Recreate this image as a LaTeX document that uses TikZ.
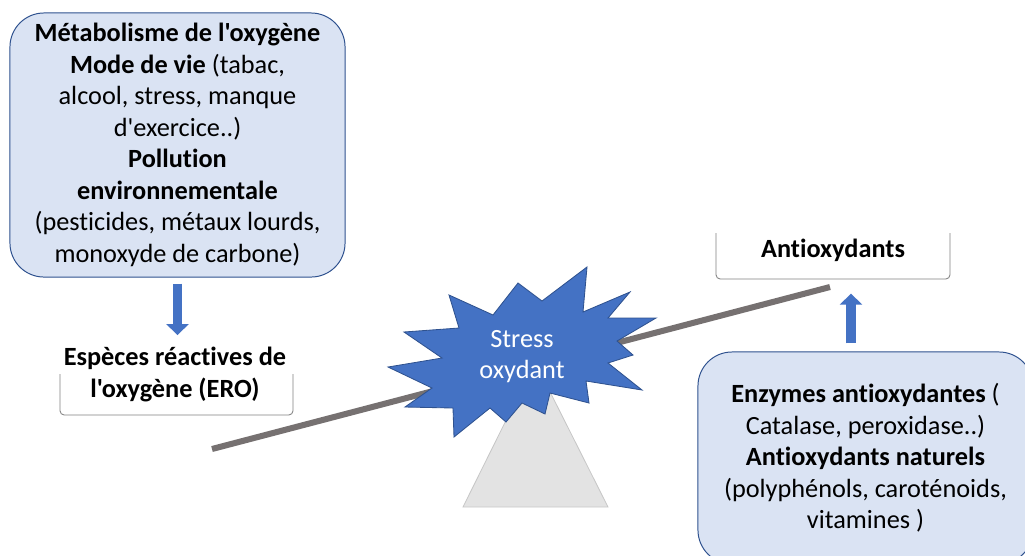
\documentclass[tikz,border=0pt]{standalone}
\usepackage{fontspec}
\setmainfont{Carlito}[Ligatures={TeXOff,NoCommon}]
\usetikzlibrary{arrows.meta}
\definecolor{bleuclair}{HTML}{DAE3F3}
\definecolor{bleu}{HTML}{4472C4}
\definecolor{bleufonce}{HTML}{2F528F}
\definecolor{gris}{HTML}{767171}

\begin{document}
\begin{tikzpicture}[x=0.025cm,y=-0.025cm]
\tikzstyle{boite}=[rectangle, rounded corners=0.85cm, draw=bleufonce, fill=bleuclair, line width=0.7pt, align=center, minimum width=8.375cm, font=\fontsize{18.7}{22.4}\selectfont]
\tikzstyle{texte}=[inner sep=0, align=center, font=\fontsize{18.7}{22.4}\selectfont]
\tikzstyle{crochet}=[draw=black!50, line width=0.6pt, rounded corners=3pt]
\tikzstyle{fleche}=[-{Triangle[length=7.8pt, width=15.6pt]}, line width=7.1pt, draw=bleu]
\useasboundingbox (0,0) rectangle (1025,555);
\clip (0,0) rectangle (1025,555);

% balance
\filldraw[fill=black!11, draw=black!22, line width=0.6pt] (535,362) -- (608,507) -- (463,507) -- cycle;
\draw[gris, line width=4.3pt] (212,449) -- (830,287);

    \node[boite, minimum height=6.6cm] (src) at (177.5,145) {\textbf{Métabolisme de l'oxygène}\\
    \textbf{Mode de vie} (tabac,\\ alcool, stress, manque\\ d'exercice..)\\
    \textbf{Pollution}\\ \textbf{environnementale}\\
    (pesticides, métaux lourds,\\ monoxyde de carbone)};
    \node[texte] (ero) at (175,374.5) {\textbf{Espèces réactives de}\\ \textbf{l'oxygène (ERO)}};
\draw[crochet] (60,374) -- (60,415) -- (293,415) -- (293,374);

    \node[texte] (antiox) at (833,250) {\textbf{Antioxydants}};
\draw[crochet] (716,233) -- (716,279) -- (950,279) -- (950,233);

    \node[boite, minimum height=5.3cm] (enz) at (865.5,458) {\textbf{Enzymes antioxydantes} (\\
    Catalase, peroxidase..)\\ \textbf{Antioxydants naturels}\\
    (polyphénols, caroténoids,\\ vitamines )};

% etoile
\filldraw[fill=bleu, draw=bleufonce, line width=0.6pt]
  (587,267) -- (583,312) -- (630,292) -- (608,318) -- (656,318) -- (617,341)
  -- (633,355) -- (608,363) -- (642,390) -- (586,381) -- (589,403) -- (550,393)
  -- (545,414) -- (522,403) -- (506,422) -- (490,408) -- (454,437) -- (453,408)
  -- (405,407) -- (432,388) -- (388,367) -- (442,358) -- (404,332) -- (459,328)
  -- (449,295) -- (493,315) -- (518,283) -- (542,301) -- cycle;
    \node[texte, text=white] (stress) at (522,356.5) {Stress\\ oxydant};

\draw[fleche, shorten <=4.3pt, shorten >=8.5pt] (src.south) -- (src.south |- ero.north);
\draw[fleche, shorten <=5.7pt, shorten >=22.8pt] ([xshift=-0.3625cm]enz.north) -- ([xshift=-0.3625cm]enz.north |- antiox.south);
\end{tikzpicture}
\end{document}
